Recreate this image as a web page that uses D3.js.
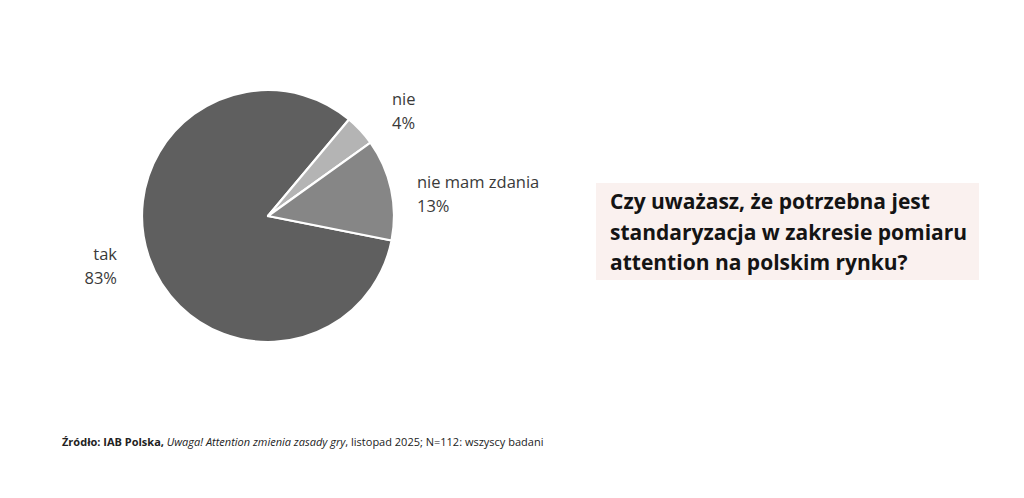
<!DOCTYPE html>
<html>
<head>
<meta charset="utf-8">
<script src="https://cdn.jsdelivr.net/npm/d3@7"></script>
<style>
  html, body { margin: 0; padding: 0; background: #ffffff; }
  svg { display: block; }
</style>
</head>
<body>
<svg id="chart" width="1024" height="498"></svg>
<script>
// ---- data ----
const categories = ["tak", "nie", "nie mam zdania"];
const values = [83, 4, 13];
const valueLabels = ["83%", "4%", "13%"];
const sliceColors = ["#5f5f5f", "#b4b4b4", "#868686"];
const titleLines = [
  "Czy uważasz, że potrzebna jest",
  "standaryzacja w zakresie pomiaru",
  "attention na polskim rynku?"
];

const svg = d3.select("#chart");
const font = "'Open Sans', Lato, sans-serif";

// ---- pie ----
const cx = 268, cy = 216, r = 126;
const startDeg = 101.2;
const pie = d3.pie().sort(null).value(d => d)
  .startAngle(startDeg * Math.PI / 180)
  .endAngle((startDeg + 360) * Math.PI / 180);
const arcs = pie(values);
const arc = d3.arc().innerRadius(0).outerRadius(r);
const color = d3.scaleOrdinal().domain(categories).range(sliceColors);

const g = svg.append("g").attr("transform", `translate(${cx},${cy})`);
g.selectAll("path").data(arcs).enter().append("path")
  .attr("d", arc)
  .attr("fill", (d, i) => color(categories[i]))
  .attr("stroke", "#ffffff")
  .attr("stroke-width", 2.2)
  .attr("stroke-linejoin", "round");

// ---- labels ----
const labelPos = [
  { x: 117, y: 260, anchor: "end" },
  { x: 392, y: 105, anchor: "start" },
  { x: 417, y: 188, anchor: "start" }
];
categories.forEach((c, i) => {
  const p = labelPos[i];
  const t = svg.append("text")
    .attr("x", p.x).attr("y", p.y)
    .attr("text-anchor", p.anchor)
    .attr("font-family", font)
    .attr("font-size", 16.5)
    .attr("fill", "#3a3a3a");
  t.append("tspan").attr("x", p.x).attr("dy", 0).text(c);
  t.append("tspan").attr("x", p.x).attr("dy", 23.5).text(valueLabels[i]);
});

// ---- title box ----
svg.append("rect")
  .attr("x", 596).attr("y", 183)
  .attr("width", 383).attr("height", 97)
  .attr("fill", "#faf1ef");
const title = svg.append("text")
  .attr("font-family", font)
  .attr("font-weight", 700)
  .attr("font-size", 21)
  .attr("fill", "#141414");
titleLines.forEach((l, i) => {
  title.append("tspan").attr("x", 610).attr("y", 209 + i * 30.5).text(l);
});

// ---- source ----
const src = svg.append("text")
  .attr("x", 62).attr("y", 446)
  .attr("font-family", font)
  .attr("font-size", 11)
  .attr("fill", "#222");
src.append("tspan").attr("font-weight", 700).text("Źródło: IAB Polska,");
src.append("tspan").attr("font-style", "italic").text(" Uwaga! Attention zmienia zasady gry");
src.append("tspan").text(", listopad 2025; N=112: wszyscy badani");
</script>
</body>
</html>
